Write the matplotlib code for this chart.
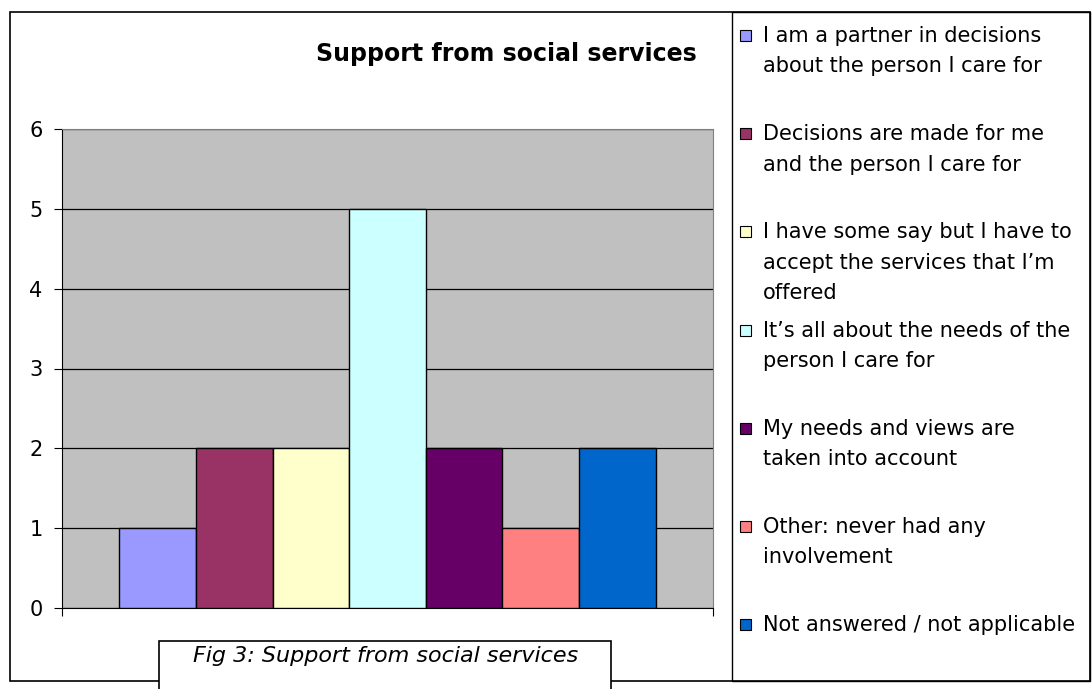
import matplotlib.pyplot as plt
from matplotlib.patches import Rectangle

W, H = 1092, 689

categories = [
    "I am a partner in decisions\nabout the person I care for",
    "Decisions are made for me\nand the person I care for",
    "I have some say but I have to\naccept the services that I\u2019m\noffered",
    "It\u2019s all about the needs of the\nperson I care for",
    "My needs and views are\ntaken into account",
    "Other: never had any\ninvolvement",
    "Not answered / not applicable",
]
values = [1, 2, 2, 5, 2, 1, 2]
colors = ["#9999FF", "#993366", "#FFFFCC", "#CCFFFF", "#660066", "#FF8080", "#0066CC"]
yticks = [0, 1, 2, 3, 4, 5, 6]


def fx(px):
    return px / W


def fy(py):
    return 1 - py / H


plt.rcParams["font.family"] = "DejaVu Sans"
fig = plt.figure(figsize=(W / 100, H / 100), dpi=100)

# outer chart frame and legend frame
fig.patches.append(Rectangle((fx(10), fy(681)), fx(1090) - fx(10), fy(12) - fy(681),
                             transform=fig.transFigure, fill=False, ec="black", lw=1.2))
fig.patches.append(Rectangle((fx(732), fy(681)), fx(1090) - fx(732), fy(12) - fy(681),
                             transform=fig.transFigure, fill=False, ec="black", lw=1.0))

ax = fig.add_axes([fx(62), fy(608), fx(713) - fx(62), fy(129) - fy(608)])
ax.set_facecolor("#C0C0C0")
xs = list(range(len(values)))
ax.bar(xs, values, width=1.0, color=colors, edgecolor="black", linewidth=1.0, zorder=3)
ax.set_xlim(-1.25, 7.25)
ax.set_ylim(0, 6)
ax.set_yticks(yticks)
ax.set_xticks([-1.25, 7.25])
ax.set_xticklabels([])
ax.tick_params(axis="y", direction="out", length=6, labelsize=15, pad=8)
ax.tick_params(axis="x", direction="out", length=6)
ax.grid(axis="y", color="black", lw=0.9, zorder=1)
for s in ["top", "right"]:
    ax.spines[s].set_color("#808080")
for s in ["left", "bottom"]:
    ax.spines[s].set_color("black")

fig.text(fx(697), fy(54), "Support from social services", ha="right", va="center",
         fontsize=17, fontweight="bold")

# legend, drawn by hand so markers sit on the first line
for i, (lab, c) in enumerate(zip(categories, colors)):
    top = 26 + i * 98.2
    fig.patches.append(Rectangle((fx(740), fy(top + 15)), fx(11), 11 / H,
                                 transform=fig.transFigure, fc=c, ec="black", lw=0.8))
    fig.text(fx(763), fy(top), lab, ha="left", va="top", fontsize=15, linespacing=1.65)

# caption box overlapping the bottom of the frame
fig.patches.append(Rectangle((fx(159), fy(700)), fx(611) - fx(159), fy(641) - fy(700),
                             transform=fig.transFigure, fc="white", ec="black", lw=1.2,
                             zorder=5))
fig.text(fx(386), fy(656), "Fig 3: Support from social services", ha="center", va="center",
         fontsize=16, fontstyle="italic", zorder=6)

fig.savefig("out.png", dpi=100)
